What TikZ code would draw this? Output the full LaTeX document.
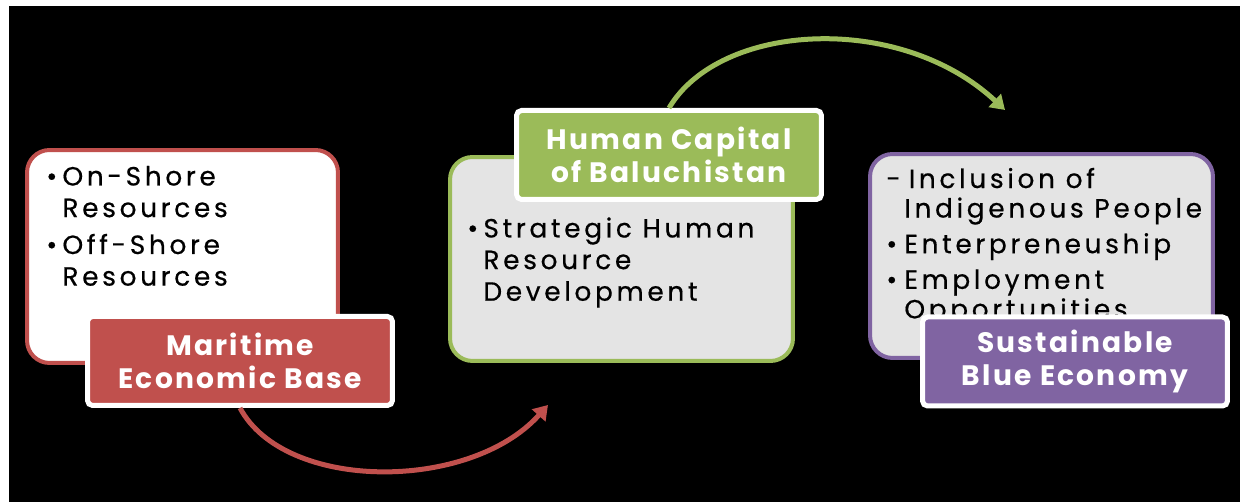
\documentclass[tikz,border=0pt]{standalone}
\usepackage{fontspec}
\setmainfont{Poppins}
\newfontfamily\itemfont{Poppins}[LetterSpace=14, FakeBold=0.5]
\newfontfamily\tagfont{Poppins}[LetterSpace=8]
\usetikzlibrary{arrows.meta}
\definecolor{seared}{HTML}{C0504D}
\definecolor{leafgreen}{HTML}{9BBB59}
\definecolor{dukepurple}{HTML}{8064A2}
\definecolor{panelgray}{HTML}{E4E4E4}
\begin{document}
\begin{tikzpicture}[x=0.02cm,y=0.02cm,
    panel/.style={draw=#1, line width=0.08cm, rounded corners=0.45cm},
    tag/.style={fill=#1, draw=white, line width=0.1cm, rounded corners=0.1cm,
        minimum width=6.1cm, minimum height=1.78cm, text=white, align=center,
        font=\tagfont\bfseries\fontsize{16}{18.7}\selectfont},
    itemtext/.style={anchor=north west, inner sep=0pt, text=black,
        font=\itemfont\fontsize{15}{18}\selectfont},
    flow/.style={line width=0.1cm, -{Triangle[length=8pt,width=10pt]}}]
    % Hintergrund
    \useasboundingbox (0,0) rectangle (1240,502);
    \fill[black] (9,0) rectangle (1240,496);
    % drei Felder
    \node[panel=seared, fill=white, minimum width=6.22cm, minimum height=4.26cm] (base) at (182.5,245.5) {};
    \node[panel=leafgreen, fill=panelgray, minimum width=6.86cm, minimum height=4.08cm] (capital) at (621.5,243) {};
    \node[panel=dukepurple, fill=panelgray, minimum width=6.86cm, minimum height=4.08cm] (blue) at (1041.5,246) {};
    % Stichpunkte
    \node[itemtext] (baseitems) at (46,339) {\begin{tabular}{@{}l@{\hspace{3pt}}l@{}}
        \textbullet & On-Shore\\ & Resources\\[3pt]
        \textbullet & Off-Shore\\ & Resources
        \end{tabular}};
    \node[itemtext] (capitalitems) at (467,287) {\begin{tabular}{@{}l@{\hspace{3pt}}l@{}}
        \textbullet & Strategic Human\\ & Resource\\ & Development
        \end{tabular}};
    \node[itemtext, font=\itemfont\fontsize{15}{16.8}\selectfont] (blueitems) at (886,335) {\begin{tabular}{@{}l@{\hspace{2pt}}l@{}}
        - & \,Inclusion of\\ & Indigenous People\\[3.5pt]
        \textbullet & Enterpreneuship\\[3.5pt]
        \textbullet & Employment\\ & Opportunities
        \end{tabular}};
    % Titel
    \node[tag=seared] (basetag) at (240,141) {Maritime\\Economic Base};
    \node[tag=leafgreen] (capitaltag) at (669,347) {Human Capital\\of Baluchistan};
    \node[tag=dukepurple] (bluetag) at (1075,140.5) {Sustainable\\Blue Economy};
    % Pfeile
    \coordinate (redend) at (548,97);
    \coordinate (greenend) at (1005,392);
    \draw[flow, seared] (basetag.south) .. controls (285,10) and (470,10) .. (redend);
    \draw[flow, leafgreen] (capitaltag.north) .. controls (720,480) and (900,490) .. (greenend);
\end{tikzpicture}
\end{document}
